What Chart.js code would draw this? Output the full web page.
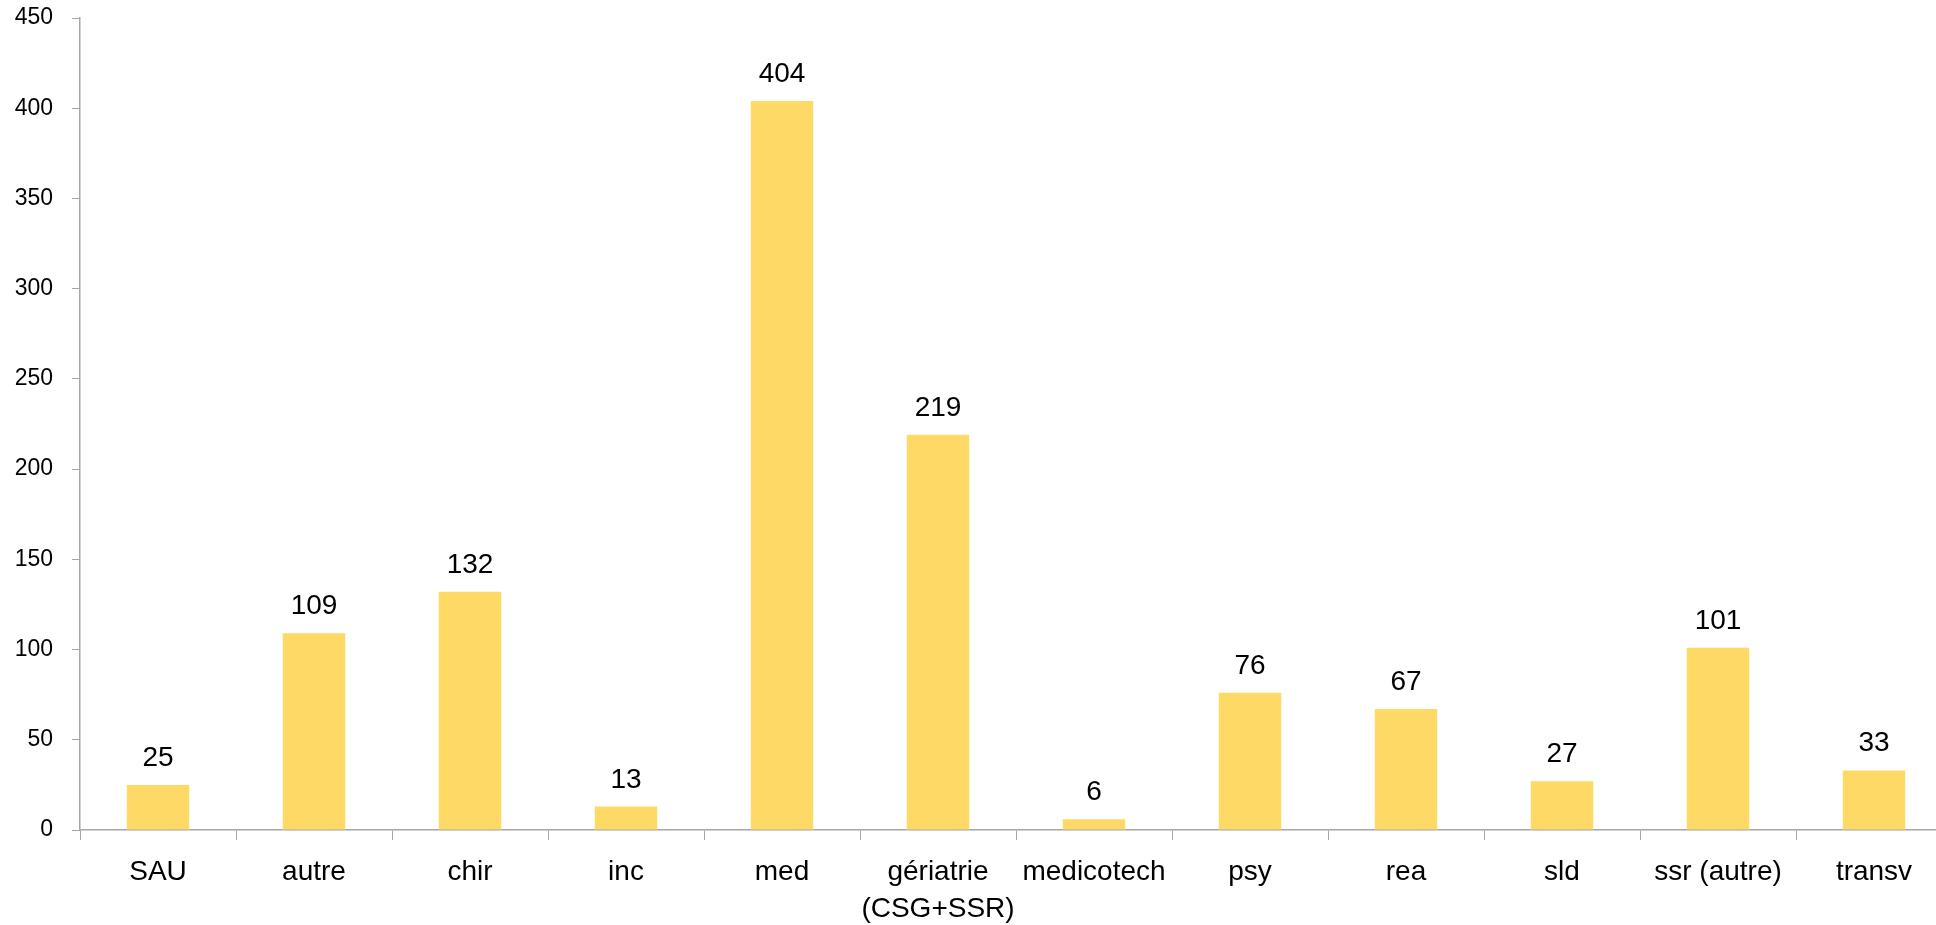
<!DOCTYPE html>
<html>
<head>
<meta charset="utf-8">
<script src="https://cdn.jsdelivr.net/npm/chart.js@4"></script>
<style>
  html, body { margin: 0; padding: 0; overflow: hidden; background: #fff; }
  #wrap { width: 1960px; height: 925px; }
</style>
</head>
<body>
<div id="wrap"><canvas id="chart" width="1960" height="925"></canvas></div>
<script>
const categories = ['SAU', 'autre', 'chir', 'inc', 'med', ['gériatrie', '(CSG+SSR)'], 'medicotech', 'psy', 'rea', 'sld', 'ssr (autre)', 'transv'];
const counts = [25, 109, 132, 13, 404, 219, 6, 76, 67, 27, 101, 33];
const yMin = 0, yMax = 450, yStep = 50;

const FONT = '"Liberation Sans", Arial, sans-serif';
const AXIS_GREY = '#a6a6a6';

// value labels above each bar
const barLabels = {
  id: 'barLabels',
  afterDatasetsDraw(chart) {
    const ctx = chart.ctx;
    const meta = chart.getDatasetMeta(0);
    ctx.save();
    ctx.font = '28px ' + FONT;
    ctx.fillStyle = '#000';
    ctx.textAlign = 'center';
    ctx.textBaseline = 'alphabetic';
    meta.data.forEach((bar, i) => {
      ctx.fillText(String(counts[i]), bar.x, bar.y - 19);
    });
    ctx.restore();
  }
};

const ctx = document.getElementById('chart').getContext('2d');
new Chart(ctx, {
  type: 'bar',
  data: {
    labels: categories,
    datasets: [{ data: counts, backgroundColor: '#ffd966', borderWidth: 0, barPercentage: 0.4, categoryPercentage: 1 }]
  },
  options: {
    responsive: false,
    animation: false,
    layout: { padding: { top: 18, right: 8, left: 0, bottom: 0 } },
    plugins: { legend: { display: false }, tooltip: { enabled: false } },
    scales: {
      x: {
        grid: { display: true, drawOnChartArea: false, drawTicks: true, tickLength: 10, color: AXIS_GREY, offset: true },
        border: { display: true, color: AXIS_GREY, width: 1.5 },
        ticks: { color: '#000', font: { family: FONT, size: 28, lineHeight: 1.35 }, padding: 13, maxRotation: 0, autoSkip: false },
        afterFit: (s) => { s.height = 95; s.paddingLeft = 0; s.paddingRight = 0; }
      },
      y: {
        min: yMin, max: yMax,
        grid: { display: true, drawOnChartArea: false, drawTicks: true, tickLength: 8, color: AXIS_GREY },
        border: { display: true, color: AXIS_GREY, width: 1.5 },
        ticks: { stepSize: yStep, color: '#000', font: { family: FONT, size: 23 }, padding: 19 },
        afterFit: (s) => { s.width = 80; s.paddingTop = 0; s.paddingBottom = 0; }
      }
    }
  },
  plugins: [barLabels]
});
</script>
</body>
</html>
